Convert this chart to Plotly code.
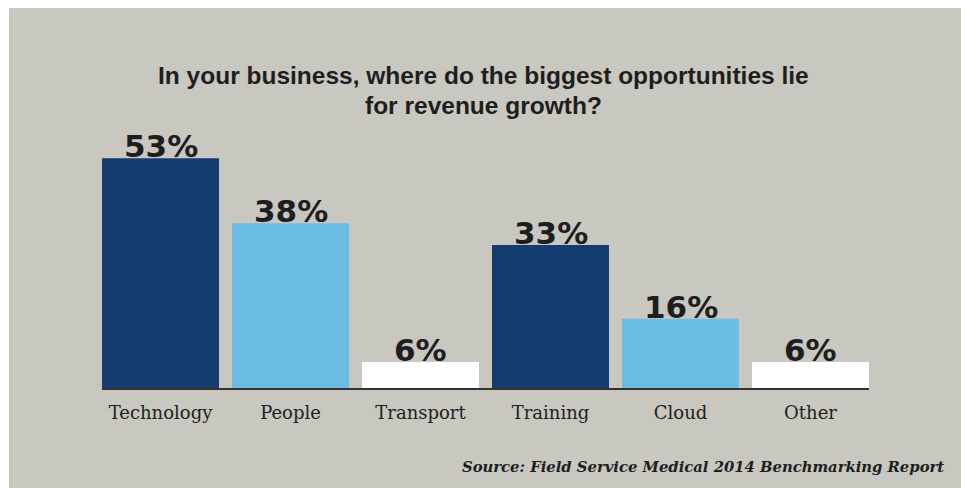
import plotly.graph_objects as go

categories = ["Technology", "People", "Transport", "Training", "Cloud", "Other"]
values = [53, 38, 6, 33, 16, 6]
labels = ["53%", "38%", "6%", "33%", "16%", "6%"]
colors = ["#143c70", "#6bbde3", "#ffffff", "#143c70", "#6bbde3", "#ffffff"]

title_lines = ["In your business, where do the biggest opportunities lie", "for revenue growth?"]
source_text = "Source: Field Service Medical 2014 Benchmarking Report"

W, H = 961, 488
ml, mr, mt, mb = 102, 92, 128, 100
pw = W - ml - mr
ph = H - mt - mb
base = H - mb  # pixel row of the baseline


def py(pix):
    """pixel row (from top) -> paper y"""
    return (base - pix) / ph


def px(pix):
    return (pix - ml) / pw


fig = go.Figure()
fig.add_trace(go.Bar(
    x=categories, y=values, marker=dict(color=colors, line=dict(width=0)),
    hoverinfo="skip", cliponaxis=False,
))

for c, v, t in zip(categories, values, labels):
    fig.add_annotation(x=c, y=v, xref="x", yref="y", text="<b>" + t + "</b>",
                       showarrow=False, xanchor="center", yanchor="bottom", yshift=-8,
                       font=dict(family="DejaVu Sans", size=31, color="#1e1e1e"))

# white strips on top and left (the chart panel is the grey paper)
fig.add_shape(type="rect", xref="paper", yref="paper",
              x0=px(-5), x1=px(9), y0=py(H + 5), y1=py(-5),
              fillcolor="#ffffff", line=dict(width=0), layer="below")
fig.add_shape(type="rect", xref="paper", yref="paper",
              x0=px(-5), x1=px(W + 5), y0=py(8), y1=py(-5),
              fillcolor="#ffffff", line=dict(width=0), layer="below")

title_y = [60, 90]
for line, yy in zip(title_lines, title_y):
    fig.add_annotation(xref="paper", yref="paper", x=px(483), y=py(yy),
                       xanchor="center", yanchor="top", showarrow=False,
                       text="<b>" + line + "</b>",
                       font=dict(family="Liberation Sans", size=24.5, color="#1e1e1e"))

fig.add_annotation(xref="paper", yref="paper", x=px(946), y=py(466),
                   xanchor="right", yanchor="middle", showarrow=False,
                   text="<b><i>" + source_text + "</i></b>",
                   font=dict(family="DejaVu Serif", size=14.8, color="#1e1e1e"))

fig.update_layout(
    width=W, height=H,
    margin=dict(l=ml, r=mr, t=mt, b=mb, pad=0),
    paper_bgcolor="#c8c7c0", plot_bgcolor="rgba(0,0,0,0)",
    bargap=0.1, showlegend=False,
)
fig.update_xaxes(range=[-0.45, 5.45], showline=True, linecolor="#333333", linewidth=2,
                 ticks="", showgrid=False, zeroline=False, ticklabelstandoff=7,
                 tickfont=dict(family="DejaVu Serif", size=18, color="#1e1e1e"), fixedrange=True)
fig.update_yaxes(range=[0, 60], visible=False, showgrid=False, zeroline=False, fixedrange=True)

fig.write_html("out.html", config={"displayModeBar": False},
               post_script="document.body.style.margin='0';document.body.style.overflow='hidden';")
